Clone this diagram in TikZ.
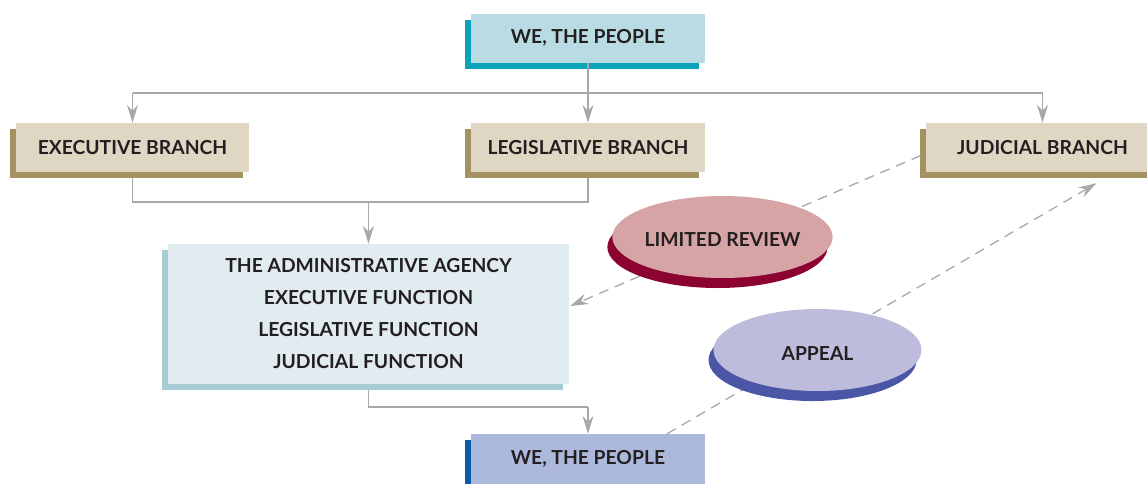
\documentclass[tikz,border=0pt]{standalone}
\usepackage{fontspec}
\setmainfont{Lato}
\usetikzlibrary{shapes.geometric,shadows,arrows.meta,calc}
\definecolor{topfill}{HTML}{B9DCE4}
\definecolor{topshadow}{HTML}{0AA3B9}
\definecolor{brfill}{HTML}{DFD6C3}
\definecolor{brshadow}{HTML}{A69260}
\definecolor{agfill}{HTML}{E1ECF1}
\definecolor{agshadow}{HTML}{A6CCD5}
\definecolor{botfill}{HTML}{ADB8DD}
\definecolor{botshadow}{HTML}{0B5BAA}
\definecolor{revfill}{HTML}{D7A4A6}
\definecolor{revshadow}{HTML}{8C0332}
\definecolor{appfill}{HTML}{BDBCDC}
\definecolor{appshadow}{HTML}{4B56A6}
\definecolor{linegray}{HTML}{A8A8AC}
\definecolor{txt}{HTML}{231F20}
\tikzset{
  box/.style={rectangle, inner sep=0pt, minimum width=234pt, minimum height=49pt,
    text=txt, font=\fontsize{19.3}{22}\selectfont\bfseries},
  boxshadow/.style={drop shadow={shadow xshift=-6pt, shadow yshift=-6pt, fill=#1, opacity=1}},
  oval/.style={ellipse, inner sep=0pt, minimum width=208pt, minimum height=82pt,
    text=txt, font=\fontsize{19.3}{22}\selectfont\bfseries, text depth=0pt},
  ovalshadow/.style={drop shadow={shadow xshift=-5pt, shadow yshift=-10pt, fill=#1, opacity=1}},
  conn/.style={draw=linegray, line width=1.6pt, -{Stealth[length=18pt,width=11pt,inset=6pt]}},
  plain/.style={draw=linegray, line width=1.6pt},
  dconn/.style={draw=linegray, line width=1.3pt, dash pattern=on 10pt off 7pt,
    -{Stealth[length=18pt,width=11pt,inset=6pt]}}
}
\begin{document}
\begin{tikzpicture}[x=1pt,y=-1pt]
\useasboundingbox (0,0) rectangle (1147,483);
% boxes
\node[box, boxshadow=topshadow, fill=topfill] (top) at (588,38) {WE, THE PEOPLE};
\node[box, boxshadow=brshadow, fill=brfill, minimum width=233pt] (exe) at (132.5,147.5) {EXECUTIVE BRANCH};
\node[box, boxshadow=brshadow, fill=brfill] (leg) at (588,147.5) {LEGISLATIVE BRANCH};
\node[box, boxshadow=brshadow, fill=brfill, minimum width=233pt] (jud) at (1042.5,147.5) {JUDICIAL BRANCH};
\node[box, boxshadow=agshadow, fill=agfill, minimum width=401pt, minimum height=140pt,
      align=center, font=\fontsize{19.3}{32}\selectfont\bfseries] (ag) at (368.5,314)
  {THE ADMINISTRATIVE AGENCY\\EXECUTIVE FUNCTION\\LEGISLATIVE FUNCTION\\JUDICIAL FUNCTION};
\node[box, boxshadow=botshadow, fill=botfill, minimum height=50pt] (bot) at (588,459) {WE, THE PEOPLE};
% solid connectors
\draw[plain] (top.south) -- ++(0,30) coordinate (hub);
\draw[plain] (exe.north |- hub) -- (jud.north |- hub);
\draw[conn] (hub) -- (leg.north);
\draw[conn] (exe.north |- hub) -- (exe.north);
\draw[conn] (jud.north |- hub) -- (jud.north);
\draw[plain] (exe.south) ++(0,6) -- ++(0,24) coordinate (m1) -- ($(leg.south)+(0,30)$) -- ($(leg.south)+(0,6)$);
\draw[conn] (ag.north |- m1) -- (ag.north);
\draw[plain] ($(ag.south)+(0,6)$) -- ($(ag.south)+(0,23)$) coordinate (m2) -- (m2 -| bot.north);
\draw[conn] (m2 -| bot.north) -- (bot.north);
% dashed connectors
\draw[dconn] ($(jud.west)+(-5,8)$) -- ($(ag.east)+(1,-8)$);
\draw[dconn] ($(bot.north)+(79,0)$) -- ($(jud.south)+(54,11)$);
% ovals
\node[oval, ovalshadow=revshadow, fill=revfill, text height=18pt] (rev) at (722.5,237) {LIMITED REVIEW};
\node[oval, ovalshadow=appshadow, fill=appfill, text height=20pt] (app) at (817.5,350) {APPEAL};
\end{tikzpicture}
\end{document}
